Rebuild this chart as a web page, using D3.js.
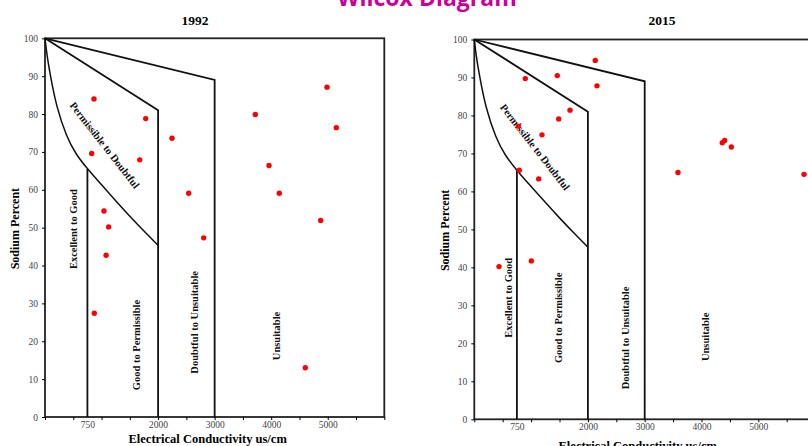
<!DOCTYPE html>
<html>
<head>
<meta charset="utf-8">
<script src="https://cdn.jsdelivr.net/npm/d3@7"></script>
<style>
  html, body { margin: 0; padding: 0; background: #fff; }
  svg { display: block; }
  .tick text { font-family: "Liberation Serif", serif; fill: #444; }
</style>
</head>
<body>
<svg id="chart" width="808" height="446"></svg>
<script>
// sample points, [EC us/cm, sodium %]
const points1992 = [
  [866, 84.0], [1781, 78.8], [3719, 79.9], [4987, 87.1], [5151, 76.4],
  [2246, 73.6], [826, 69.6], [1675, 67.9], [3961, 66.4], [2541, 59.1],
  [4143, 59.1], [1043, 54.4], [1126, 50.2], [4875, 51.9], [2806, 47.3],
  [1080, 42.7], [872, 27.4], [4603, 13.0]
];
const points2015 = [
  [2130, 94.5], [898, 89.7], [1461, 90.5], [2160, 87.8], [1685, 81.4],
  [1486, 79.1], [775, 77.2], [1192, 74.9], [792, 65.6], [1134, 63.3],
  [435, 40.2], [1004, 41.7], [3586, 65.0], [4366, 72.8], [4408, 73.4],
  [4525, 71.7], [5805, 64.5]
];

// zone boundaries of the Wilcox diagram
const excellentCurve = [
  [0, 100], [30, 96], [90, 90.5], [200, 82], [380, 74], [540, 69.5],
  [750, 65.5], [1000, 61.3], [1250, 57.1], [1500, 53.0], [1750, 49.1], [2000, 45.3]
];
const straightLines = [
  [[0, 100], [2000, 81], [2000, 0]],
  [[0, 100], [3000, 89], [3000, 0]],
  [[750, 65.5], [750, 0]]
];

const yTicks = d3.range(0, 101, 10);
const xMinorTicks = d3.range(0, 6001, 500);
const xLabels = [750, 2000, 3000, 4000, 5000];
const zoneNames = ['Excellent to Good', 'Good to Permissible', 'Doubtful to Unsuitable', 'Unsuitable'];

const panels = [
  {
    title: '1992', data: points1992,
    xRange: [45, 384.3], yRange: [417, 38.3],
    titleX: 195, yLabelX: 18.5, xLabelY: 443,
    zonePos: [[500, 49.6], [1622, 19], [2640, 25], [4085, 21.4]],
    diagPos: [1056, 71.8]
  },
  {
    title: '2015', data: points2015,
    xRange: [474.3, 815.1], yRange: [419.3, 39.5],
    titleX: 662, yLabelX: 449, xLabelY: 450,
    zonePos: [[599, 32], [1479, 26.7], [2653, 21.4], [4074, 21.7]],
    diagPos: [1069, 71.7]
  }
];

const svg = d3.select('#chart');
const serif = '"Liberation Serif", "Times New Roman", serif';

svg.append('text')
  .attr('x', 427)
  .attr('y', 6)
  .attr('text-anchor', 'middle')
  .attr('font-family', '"Open Sans", sans-serif')
  .attr('font-weight', 'bold')
  .attr('font-size', 23)
  .attr('fill', '#cc0099')
  .text('Wilcox Diagram');

panels.forEach((p) => {
  const x = d3.scaleLinear().domain([0, 6000]).range(p.xRange);
  const y = d3.scaleLinear().domain([0, 100]).range(p.yRange);
  const g = svg.append('g');

  // frame
  g.append('rect')
    .attr('x', x(0))
    .attr('y', y(100))
    .attr('width', x(6000) - x(0))
    .attr('height', y(0) - y(100))
    .attr('fill', 'none')
    .attr('stroke', '#222')
    .attr('stroke-width', 1.8);

  const yAxis = g.append('g')
    .attr('transform', `translate(${x(0)},0)`)
    .call(d3.axisLeft(y).tickValues(yTicks).tickSize(3).tickPadding(4));
  yAxis.select('.domain').remove();
  yAxis.selectAll('text').attr('font-size', 9.5);

  const xAxis = g.append('g')
    .attr('transform', `translate(0,${y(0)})`)
    .call(d3.axisBottom(x).tickValues(xMinorTicks).tickSize(3).tickFormat(''));
  xAxis.select('.domain').remove();

  const xAxisLabels = g.append('g')
    .attr('transform', `translate(0,${y(0)})`)
    .call(d3.axisBottom(x).tickValues(xLabels).tickSize(0).tickPadding(4).tickFormat(d3.format('d')));
  xAxisLabels.select('.domain').remove();
  xAxisLabels.selectAll('text').attr('font-size', 9.5);

  // boundaries
  const line = d3.line().x((d) => x(d[0])).y((d) => y(d[1]));
  g.append('path')
    .datum(excellentCurve)
    .attr('d', line.curve(d3.curveBasis))
    .attr('fill', 'none')
    .attr('stroke', '#111')
    .attr('stroke-width', 1.5);
  line.curve(d3.curveLinear);
  g.selectAll('path.zone')
    .data(straightLines)
    .join('path')
    .attr('class', 'zone')
    .attr('d', line)
    .attr('fill', 'none')
    .attr('stroke', '#111')
    .attr('stroke-width', 1.8)
    .attr('stroke-linejoin', 'miter');

  // zone labels
  g.selectAll('text.zone-label')
    .data(zoneNames)
    .join('text')
    .attr('class', 'zone-label')
    .attr('transform', (d, i) => `translate(${x(p.zonePos[i][0])},${y(p.zonePos[i][1])}) rotate(-90)`)
    .attr('text-anchor', 'middle')
    .attr('dy', '0.35em')
    .attr('font-family', serif)
    .attr('font-weight', 'bold')
    .attr('font-size', 10.5)
    .attr('fill', '#111')
    .text((d) => d);

  g.append('text')
    .attr('transform', `translate(${x(p.diagPos[0])},${y(p.diagPos[1])}) rotate(52)`)
    .attr('text-anchor', 'middle')
    .attr('dy', '0.35em')
    .attr('font-family', serif)
    .attr('font-weight', 'bold')
    .attr('font-size', 10.5)
    .attr('fill', '#111')
    .text('Permissible to Doubtful');

  // samples
  g.selectAll('circle')
    .data(p.data)
    .join('circle')
    .attr('cx', (d) => x(d[0]))
    .attr('cy', (d) => y(d[1]))
    .attr('r', 2.7)
    .attr('fill', '#ff0000');

  // titles
  g.append('text')
    .attr('x', p.titleX)
    .attr('y', 25)
    .attr('text-anchor', 'middle')
    .attr('font-family', serif)
    .attr('font-weight', 'bold')
    .attr('font-size', 13.5)
    .text(p.title);

  g.append('text')
    .attr('transform', `translate(${p.yLabelX},${(p.yRange[0] + p.yRange[1]) / 2 + 1}) rotate(-90)`)
    .attr('text-anchor', 'middle')
    .attr('font-family', serif)
    .attr('font-weight', 'bold')
    .attr('font-size', 12)
    .text('Sodium Percent');

  g.append('text')
    .attr('x', (x(0) + x(6000)) / 2 - 7)
    .attr('y', p.xLabelY)
    .attr('text-anchor', 'middle')
    .attr('font-family', serif)
    .attr('font-weight', 'bold')
    .attr('font-size', 12.5)
    .text('Electrical Conductivity us/cm');
});
</script>
</body>
</html>
